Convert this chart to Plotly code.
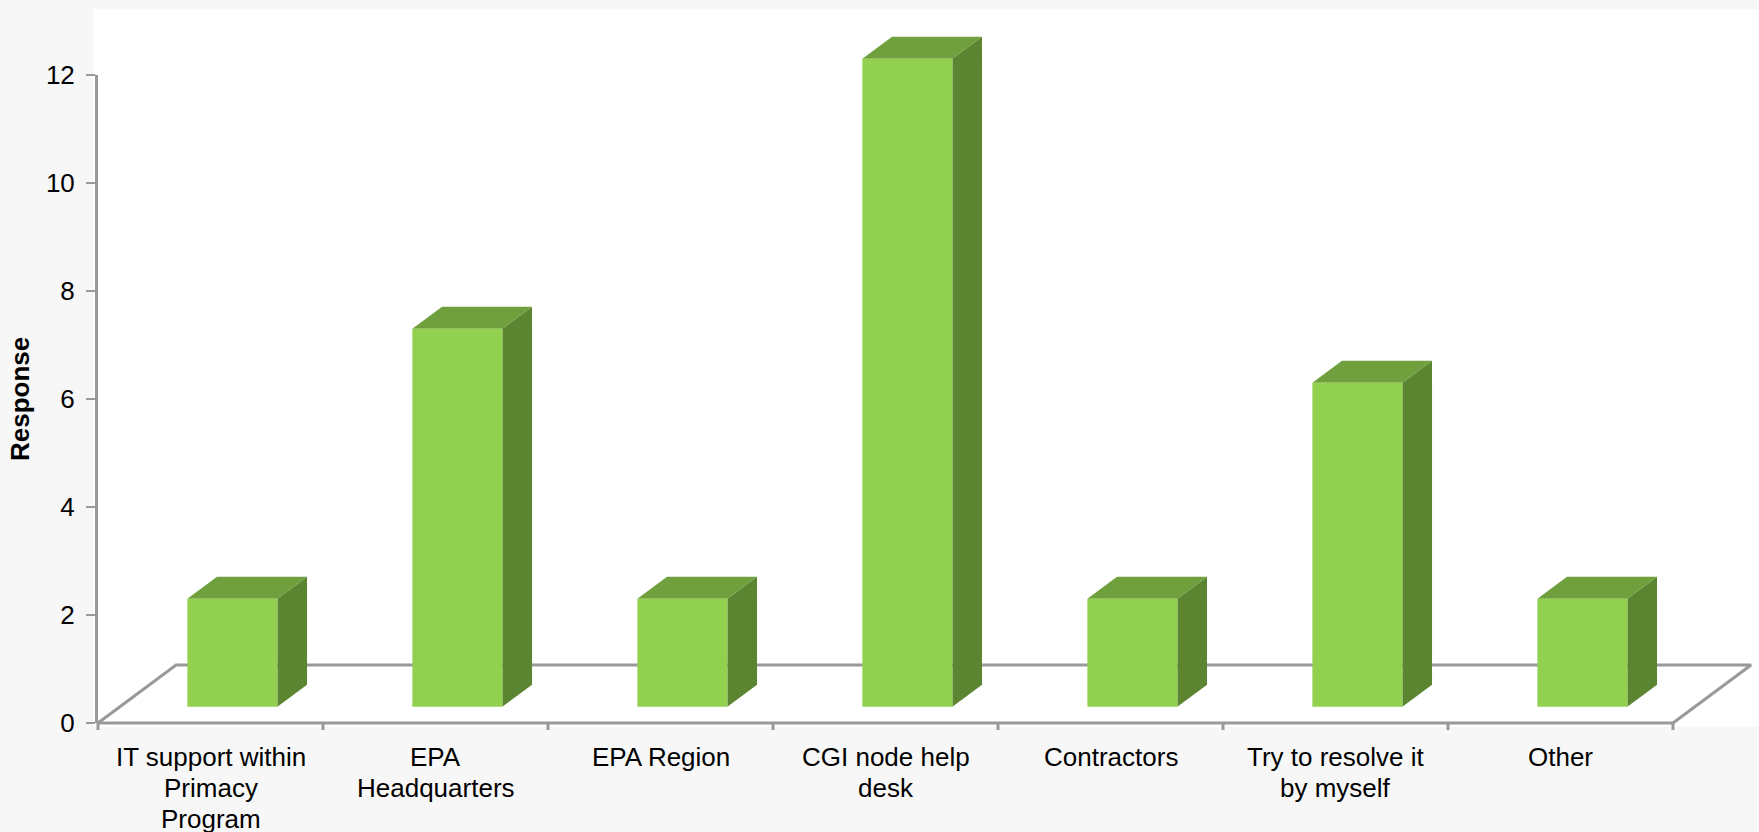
import plotly.graph_objects as go

# data
categories = [
    "IT support within<br>Primacy<br>Program",
    "EPA<br>Headquarters",
    "EPA Region",
    "CGI node help<br>desk",
    "Contractors",
    "Try to resolve it<br>by myself",
    "Other",
]
responses = [2, 7, 2, 12, 2, 6, 2]
y_ticks = [0, 2, 4, 6, 8, 10, 12]

FONT = "Liberation Sans, Arial, sans-serif"
FRONT = "#92D050"
TOP = "#6FA03D"
SIDE = "#5C8532"
LINE = "#999999"

# oblique "3d" projection, in data units: full floor depth
DEPTH_X = 0.347
DEPTH_Y = 1.074
HALF_W = 0.2      # half bar width
D_FRONT = 0.28    # bar front plane (fraction of floor depth)
D_BACK = 0.66     # bar back plane

W, H = 1759, 832
ML, MR, MT, MB = 93, 0, 9, 100         # main subplot in px
PX_X = 225.0                           # px per category
PX_Y = 54.0                            # px per response unit
X0 = -0.5 - 5 / PX_X
Y0 = -(H - MB - 723) / PX_Y
plot_w = W - ML - MR
plot_h = H - MT - MB
LABEL_TOP = 757   # px centre of first label line
LABEL_STEP = 31   # px between label lines


def paper_y(px):
    return (H - MB - px) / plot_h


def face(pts, color, hover=None):
    xs = [p[0] for p in pts] + [pts[0][0]]
    ys = [p[1] for p in pts] + [pts[0][1]]
    return go.Scatter(
        x=xs, y=ys, mode="lines", fill="toself", fillcolor=color,
        line=dict(width=0, color=color),
        hoverinfo="text" if hover else "skip", hoveron="fills", text=hover,
        showlegend=False,
    )


fig = go.Figure()

# floor outline + x axis with boundary ticks
n = len(categories)
left, right = -0.5, n - 0.5
fx, fy = [left, right], [0, 0]
for b in range(n + 1):
    fx += [None, left + b, left + b]
    fy += [None, 0, -7 / PX_Y]
fx += [None, left, left + DEPTH_X, right + DEPTH_X, right]
fy += [None, 0, DEPTH_Y, DEPTH_Y, 0]
fig.add_trace(go.Scatter(x=fx, y=fy, mode="lines", line=dict(color=LINE, width=3),
                         hoverinfo="skip", showlegend=False))

# 3d columns: side, top, front faces
for i, v in enumerate(responses):
    xl, xr = i - HALF_W, i + HALF_W
    fdx, fdy = D_FRONT * DEPTH_X, D_FRONT * DEPTH_Y
    bdx, bdy = D_BACK * DEPTH_X, D_BACK * DEPTH_Y
    fig.add_trace(face([(xr + fdx, fdy), (xr + bdx, bdy), (xr + bdx, v + bdy), (xr + fdx, v + fdy)], SIDE))
    fig.add_trace(face([(xl + fdx, v + fdy), (xr + fdx, v + fdy), (xr + bdx, v + bdy), (xl + bdx, v + bdy)], TOP))
    fig.add_trace(face([(xl + fdx, fdy), (xr + fdx, fdy), (xr + fdx, v + fdy), (xl + fdx, v + fdy)], FRONT,
                       hover=f"{categories[i].replace('<br>', ' ')}: {v}"))

# helper subplot that carries the value axis (0..12)
fig.add_trace(go.Scatter(x=[0], y=[0], xaxis="x2", yaxis="y2", mode="markers",
                         marker=dict(opacity=0), hoverinfo="skip", showlegend=False))

# category labels, one annotation per line so the line spacing is tight like the original
annotations = []
for i, label in enumerate(categories):
    for k, part in enumerate(label.split("<br>")):
        annotations.append(dict(
            text=part, x=i, xref="x", yref="paper", y=paper_y(LABEL_TOP + k * LABEL_STEP),
            xanchor="center", yanchor="middle", showarrow=False, font=dict(size=26),
        ))
annotations.append(dict(
    text="<b>Response</b>", textangle=-90, xref="paper", yref="paper",
    x=(20 - ML) / plot_w, y=paper_y(399), xanchor="center", yanchor="middle",
    showarrow=False, font=dict(size=26),
))

fig.update_layout(
    width=W, height=H,
    margin=dict(l=ML, r=MR, t=MT, b=MB),
    paper_bgcolor="#F7F7F7",
    plot_bgcolor="rgba(0,0,0,0)",
    showlegend=False,
    font=dict(family=FONT, size=26, color="black"),
    xaxis=dict(
        range=[X0, X0 + plot_w / PX_X], tickvals=list(range(n)), showticklabels=False,
        showgrid=False, zeroline=False, showline=False, ticks="", automargin=False,
        fixedrange=True,
    ),
    yaxis=dict(range=[Y0, Y0 + plot_h / PX_Y], visible=False, fixedrange=True, automargin=False),
    xaxis2=dict(domain=[5 / plot_w, 1], anchor="y2", visible=False, range=[0, 1], automargin=False),
    yaxis2=dict(
        domain=[paper_y(723), paper_y(75)], anchor="x2",
        range=[0, 12], tickvals=y_ticks, ticks="outside", ticklen=9, tickwidth=2,
        tickcolor=LINE, showline=True, linecolor=LINE, linewidth=3, automargin=False,
        showgrid=False, zeroline=False, ticklabelstandoff=6, tickfont=dict(size=26),
        fixedrange=True,
    ),
    shapes=[dict(type="rect", xref="paper", yref="paper", x0=0, x1=1,
                 y0=paper_y(727), y1=1, fillcolor="white",
                 line=dict(width=0), layer="below")],
    annotations=annotations,
)

# page body has a default 8px margin; drop it so the figure fills the window
fig.write_html("out.html", config={"displayModeBar": False},
               post_script="document.body.style.margin='0';")
